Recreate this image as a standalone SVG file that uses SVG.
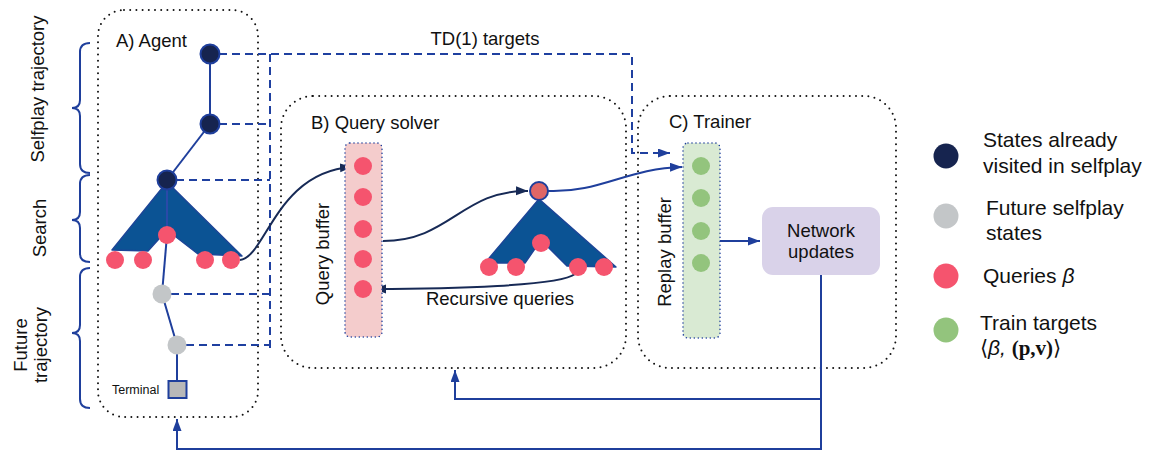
<svg xmlns="http://www.w3.org/2000/svg" width="1154" height="450" viewBox="0 0 1154 450">
  <style>
    text { font-family: "Liberation Sans", Arial, sans-serif; fill: #111; }
    .lbl { font-size: 18.5px; }
    .leg { font-size: 21px; }
    .box { fill: none; stroke: #111; stroke-width: 2; stroke-dasharray: 0 6.2; stroke-linecap: round; }
    .buf { stroke: #1f3f9c; stroke-width: 1.6; stroke-dasharray: 0 4; stroke-linecap: round; }
    .edge { stroke: #1f3f9c; stroke-width: 2; fill: none; }
    .dash { stroke: #1f40a0; stroke-width: 2; fill: none; stroke-dasharray: 8 5; }
    .dark { stroke: #172a56; stroke-width: 2; fill: none; }
    .visited { fill: #16244f; stroke: #1f3f9c; stroke-width: 2; }
    .future { fill: #c3c6c8; }
    .query { fill: #f5546e; }
    .target { fill: #93c47d; }
    .tree { fill: #0b5394; stroke: #1c4597; stroke-width: 1.5; stroke-linejoin: round; }
    .brace { fill: none; stroke: #1f3f9c; stroke-width: 2; }
  </style>
  <defs>
    <marker id="arrBlue" markerUnits="userSpaceOnUse" markerWidth="13" markerHeight="10" refX="12" refY="4.5" orient="auto">
      <path d="M0,0 L12,4.5 L0,9 z" fill="#1f3f9c"/>
    </marker>
    <marker id="arrDark" markerUnits="userSpaceOnUse" markerWidth="13" markerHeight="10" refX="12" refY="4.5" orient="auto">
      <path d="M0,0 L12,4.5 L0,9 z" fill="#172a56"/>
    </marker>
  </defs>

  <rect width="1154" height="450" fill="#ffffff"/>

  <!-- Side braces and their labels -->
  <g id="braces">
    <path class="brace" d="M90,43 C83,43 80,46 80,52 L80,100 C80,105 77,108 72,108 C77,108 80,111 80,116 L80,164 C80,170 83,173 90,173"/>
    <path class="brace" d="M90,175 C83,175 80,178 80,184 L80,212 C80,217 77,220 72,220 C77,220 80,223 80,228 L80,254 C80,259 83,262 90,262"/>
    <path class="brace" d="M90,268 C83,268 80,271 80,277 L80,325 C80,330 77,333 72,333 C77,333 80,336 80,341 L80,399 C80,405 83,408 90,408"/>
    <text class="lbl" text-anchor="middle" transform="translate(44,89) rotate(-90)">Selfplay trajectory</text>
    <text class="lbl" text-anchor="middle" transform="translate(46,228) rotate(-90)">Search</text>
    <text class="lbl" text-anchor="middle" transform="translate(27,345) rotate(-90)">Future</text>
    <text class="lbl" text-anchor="middle" transform="translate(47,345) rotate(-90)">trajectory</text>
  </g>

  <!-- Panel frames -->
  <g id="agent-panel">
    <rect class="box" x="98" y="10" width="160" height="407" rx="26"/>
    <text class="lbl" x="116" y="47">A) Agent</text>
  </g>
  <g id="query-solver-panel">
    <rect class="box" x="281" y="96" width="345" height="272" rx="32"/>
    <text class="lbl" x="311" y="129">B) Query solver</text>
  </g>
  <g id="trainer-panel">
    <rect class="box" x="638" y="96" width="258" height="272" rx="32"/>
    <text class="lbl" x="669" y="128">C) Trainer</text>
  </g>

  <!-- Connectors -->
  <g id="connectors">
    <!-- agent trajectory edges -->
    <line class="edge" x1="210" y1="54" x2="210" y2="124"/>
    <line class="edge" x1="210" y1="124" x2="167" y2="180"/>
    <!-- TD(1) target links -->
    <path class="dash" d="M219,54 H632 V153 H670" marker-end="url(#arrBlue)"/>
    <path class="dash" d="M270,54 V350"/>
    <path class="dash" d="M219,124 H270"/>
    <path class="dash" d="M176,180 H270"/>
    <path class="dash" d="M171,294 H270"/>
    <path class="dash" d="M186,345 H270"/>
    <text class="lbl" x="485" y="45" text-anchor="middle">TD(1) targets</text>
    <!-- queries flow -->
    <path class="dark" d="M240,260 C266,257 276,172 352,167" marker-end="url(#arrDark)"/>
    <path class="dark" d="M383,241 C450,241 462,190 528,191" marker-end="url(#arrDark)"/>
    <path class="dark" d="M575,274 C560,286 450,289 374,289" marker-end="url(#arrDark)"/>
    <text class="lbl" x="500" y="305" text-anchor="middle">Recursive queries</text>
    <path class="edge" d="M548,191 C600,193 628,168 682,167" marker-end="url(#arrBlue)"/>
    <!-- trainer -->
    <path class="edge" d="M720,241 H760" marker-end="url(#arrBlue)"/>
    <path class="edge" d="M821,275 V449 H177 V419" marker-end="url(#arrBlue)"/>
    <path class="edge" d="M821,399 H455 V370" marker-end="url(#arrBlue)"/>
  </g>

  <!-- Agent nodes -->
  <g id="agent-search-tree">
    <polygon class="tree" points="167,182 112,250 148,251 167,230 198,254 242,256"/>
    <line x1="167" y1="185" x2="167" y2="235" stroke="#2a4aa8" stroke-width="2"/>
    <line class="edge" x1="167" y1="235" x2="162" y2="294"/>
    <line class="edge" x1="162" y1="294" x2="177" y2="345"/>
    <line class="edge" x1="177" y1="345" x2="177" y2="381"/>
  </g>
  <g id="agent-state-1"><circle class="visited" cx="210" cy="54" r="9.5"/></g>
  <g id="agent-state-2"><circle class="visited" cx="210" cy="124" r="9.5"/></g>
  <g id="agent-state-3"><circle class="visited" cx="167" cy="180" r="9.5"/></g>
  <g id="agent-queries">
    <circle class="query" cx="167" cy="235" r="9"/>
    <circle class="query" cx="115" cy="260" r="9"/>
    <circle class="query" cx="143" cy="260" r="9"/>
    <circle class="query" cx="205" cy="260" r="9"/>
    <circle class="query" cx="231" cy="260" r="9"/>
  </g>
  <g id="future-state-1"><circle class="future" cx="162" cy="294" r="9.5"/></g>
  <g id="future-state-2"><circle class="future" cx="177" cy="345" r="9.5"/></g>
  <g id="terminal">
    <rect x="168.5" y="381" width="18" height="17" fill="#b8b8b8" stroke="#1f3f9c" stroke-width="2"/>
    <text x="112" y="394" font-size="12.5">Terminal</text>
  </g>

  <!-- Query buffer -->
  <g id="query-buffer">
    <rect class="buf" x="345" y="143" width="37" height="194" rx="5" fill="#f4cccc"/>
    <circle class="query" cx="363" cy="166" r="9"/>
    <circle class="query" cx="363" cy="197" r="9"/>
    <circle class="query" cx="363" cy="229" r="9"/>
    <circle class="query" cx="363" cy="259" r="9"/>
    <circle class="query" cx="363" cy="289" r="9"/>
    <text class="lbl" text-anchor="middle" transform="translate(329,254) rotate(-90)">Query buffer</text>
  </g>

  <!-- Query solver search tree -->
  <g id="solver-tree">
    <polygon class="tree" points="539,199 485,263 525,263 541,240 567,266 616,267"/>
    <circle cx="539" cy="191" r="9" fill="#e06666" stroke="#1f3f9c" stroke-width="2"/>
    <circle class="query" cx="541" cy="243" r="9"/>
    <circle class="query" cx="489" cy="267" r="9"/>
    <circle class="query" cx="516" cy="267" r="9"/>
    <circle class="query" cx="578" cy="267" r="9"/>
    <circle class="query" cx="604" cy="267" r="9"/>
  </g>

  <!-- Replay buffer -->
  <g id="replay-buffer">
    <rect class="buf" x="683" y="143" width="37" height="195" rx="5" fill="#d9ead3"/>
    <circle class="target" cx="701" cy="166" r="9"/>
    <circle class="target" cx="701" cy="198" r="9"/>
    <circle class="target" cx="701" cy="231" r="9"/>
    <circle class="target" cx="701" cy="263" r="9"/>
    <text class="lbl" text-anchor="middle" transform="translate(671,252) rotate(-90)">Replay buffer</text>
  </g>

  <!-- Network updates -->
  <g id="network-updates">
    <rect x="762" y="207" width="118" height="68" rx="11" fill="#d9d2e9"/>
    <text class="lbl" x="821" y="237" text-anchor="middle">Network</text>
    <text class="lbl" x="821" y="258" text-anchor="middle">updates</text>
  </g>

  <!-- Legend -->
  <g id="legend">
    <circle cx="946" cy="156" r="12.5" fill="#16244f"/>
    <text class="leg" x="983" y="147">States already</text>
    <text class="leg" x="983" y="173">visited in selfplay</text>
    <circle cx="946" cy="216" r="12.5" fill="#c3c6c8"/>
    <text class="leg" x="986" y="215">Future selfplay</text>
    <text class="leg" x="986" y="240">states</text>
    <circle cx="946" cy="276" r="12.5" fill="#f5546e"/>
    <text class="leg" x="983" y="283">Queries <tspan font-style="italic">β</tspan></text>
    <circle cx="946" cy="330" r="12.5" fill="#93c47d"/>
    <text class="leg" x="980" y="330">Train targets</text>
    <text class="leg" x="980" y="355" font-family="'DejaVu Sans', 'Liberation Sans', sans-serif">⟨<tspan font-family="'Liberation Sans', sans-serif" font-style="italic">β,</tspan> <tspan font-family="'Liberation Serif', serif" font-weight="bold">(p,v)</tspan>⟩</text>
  </g>
</svg>
